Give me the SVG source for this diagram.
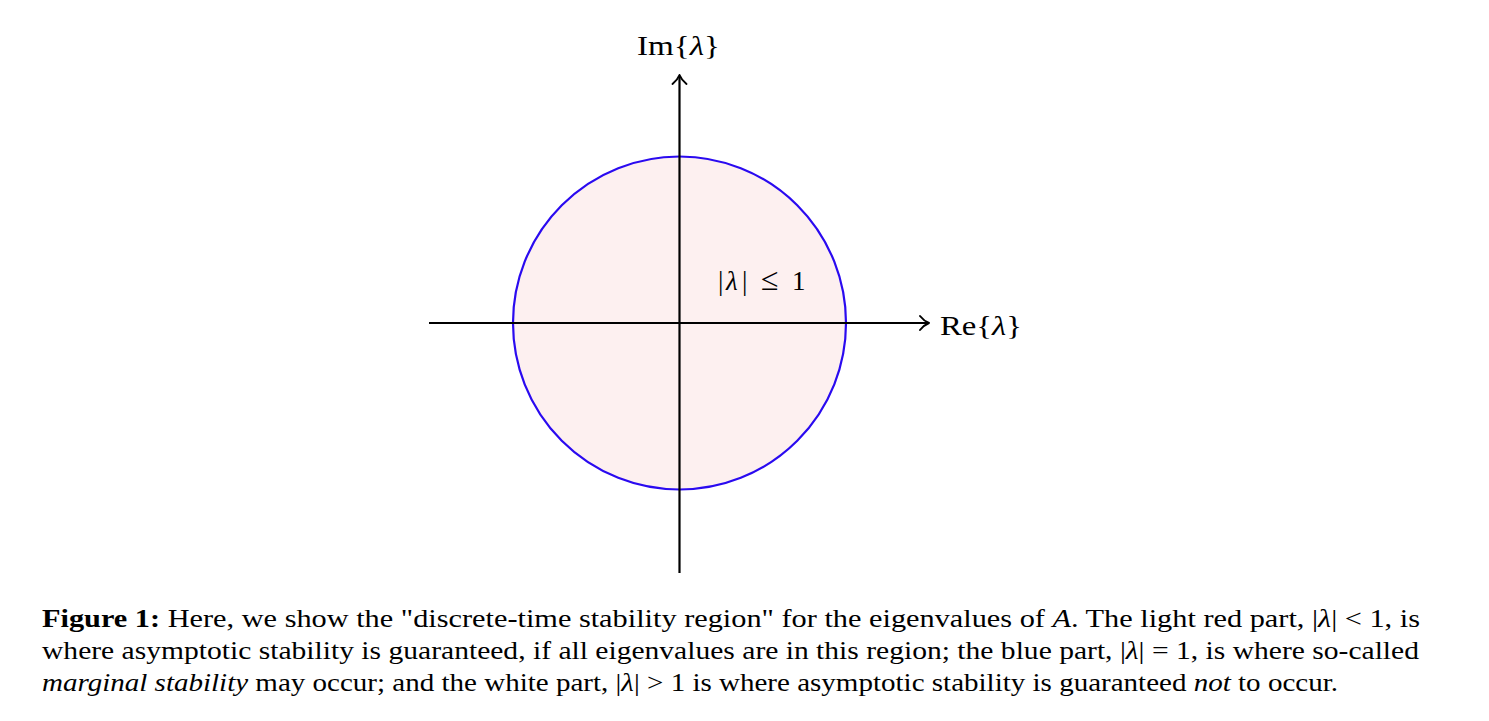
<svg xmlns="http://www.w3.org/2000/svg" width="1489" height="721" viewBox="0 0 1489 721">
<style>
text{font-family:"Liberation Serif","DejaVu Serif",serif;fill:#000}
.lbl{font-size:27px}
.cap{font-size:26px}
.ax{stroke:#000;stroke-width:2.2;fill:none}
.hd{stroke:#000;stroke-width:2;fill:none;stroke-linecap:round;stroke-linejoin:round}
</style>
<rect width="1489" height="721" fill="#fff"/>
<g id="disk">
<circle cx="679.5" cy="323" r="166.5" fill="#fdf0f0" stroke="#2a0af0" stroke-width="2.2"/>
</g>
<g id="connectors">
<line class="ax" x1="429" y1="323" x2="928" y2="323"/>
<path class="hd" d="M920,316 Q924,321 929,323 Q924,325 920,330"/>
<line class="ax" x1="679.5" y1="573" x2="679.5" y2="76"/>
<path class="hd" d="M672.5,84 Q677.5,80 679.5,75 Q681.5,80 686.5,84"/>
</g>
<g id="im-label"><text class="lbl" x="637" y="55" textLength="83" lengthAdjust="spacingAndGlyphs">Im{<tspan font-style="italic">λ</tspan>}</text></g>
<g id="re-label"><text class="lbl" x="940" y="335" textLength="82" lengthAdjust="spacingAndGlyphs">Re{<tspan font-style="italic">λ</tspan>}</text></g>
<g id="region-label"><text class="lbl" y="290"><tspan x="718">|</tspan><tspan font-style="italic" x="726">λ</tspan><tspan x="742">|</tspan><tspan x="761" font-size="32">≤</tspan><tspan x="792">1</tspan></text></g>
<g id="caption">
<text class="cap" x="42" y="627" textLength="1378" lengthAdjust="spacingAndGlyphs"><tspan font-weight="bold">Figure 1:</tspan> Here, we show the "discrete-time stability region" for the eigenvalues of <tspan font-style="italic">A</tspan>. The light red part, |<tspan font-style="italic">λ</tspan>| &lt; 1, is</text>
<text class="cap" x="42" y="659" textLength="1377" lengthAdjust="spacingAndGlyphs">where asymptotic stability is guaranteed, if all eigenvalues are in this region; the blue part, |<tspan font-style="italic">λ</tspan>| = 1, is where so-called</text>
<text class="cap" x="42" y="691" textLength="1296" lengthAdjust="spacingAndGlyphs"><tspan font-style="italic">marginal stability</tspan> may occur; and the white part, |<tspan font-style="italic">λ</tspan>| &gt; 1 is where asymptotic stability is guaranteed <tspan font-style="italic">not</tspan> to occur.</text>
</g>
</svg>
